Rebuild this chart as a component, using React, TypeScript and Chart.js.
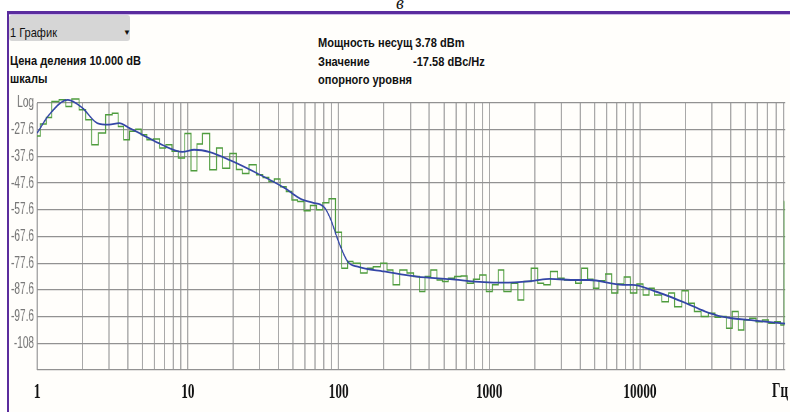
import React, { useEffect, useRef } from 'react';
import { Chart, registerables } from 'chart.js';

Chart.register(...registerables);

// ---- data ----
const FREQ_HZ = [
  1, 1.1, 1.2, 1.3, 1.5, 1.6, 1.8, 2, 2.2, 2.4, 2.7, 3, 3.3, 3.6, 3.9, 4.3, 4.7, 5.1, 5.6, 6.2, 6.8, 7.5, 8.2, 9.1,
  10, 11, 12, 13, 15, 16, 18, 20, 22, 24, 27, 30, 33, 36, 39, 43, 47, 51, 56, 62, 68, 75, 82, 91,
  100, 110, 120, 130, 150, 160, 180, 200, 220, 240, 270, 300, 330, 360, 390, 430, 470, 510, 560, 620, 680, 750, 820, 910,
  1000, 1100, 1200, 1300, 1500, 1600, 1800, 2000, 2200, 2400, 2700, 3000, 3300, 3600, 3900, 4300, 4700, 5100, 5600, 6200, 6800, 7500, 8200, 9100,
  10000, 11000, 12000, 13000, 15000, 16000, 18000, 20000, 22000, 24000, 27000, 30000, 33000, 36000, 39000, 43000, 47000, 51000, 56000, 62000, 68000, 75000, 82000, 90000, 91000,
];

const TRACE_DB = [
  -30.0, -25.5, -23.0, -17.0, -16.4, -18.9, -16.1, -20.1, -23.9, -33.2, -28.8, -22.0, -21.4, -26.4, -31.4, -28.2, -27.4, -29.5, -31.4, -31.1, -34.5, -33.2, -35.7, -38.2,
  -29.0, -43.0, -33.0, -29.0, -42.6, -34.5, -42.0, -36.5, -42.5, -44.0, -40.7, -44.5, -45.5, -47.0, -46.1, -49.0, -50.7, -53.9, -54.5, -58.0, -56.0, -57.6, -55.0, -53.5,
  -66.0, -79.5, -77.0, -77.6, -81.3, -79.5, -78.9, -77.6, -80.1, -85.7, -80.1, -81.3, -82.6, -88.2, -82.6, -80.1, -83.9, -84.5, -83.2, -82.6, -82.4, -85.1, -83.6, -82.0,
  -88.2, -85.7, -80.1, -88.2, -85.1, -91.4, -84.5, -79.5, -85.1, -85.7, -80.7, -83.2, -83.9, -83.9, -85.1, -79.5, -83.6, -87.0, -84.2, -81.6, -88.8, -85.4, -82.8, -88.8,
  -85.4, -89.5, -87.0, -89.5, -92.0, -88.8, -93.9, -87.9, -92.6, -95.7, -97.6, -96.3, -97.8, -97.6, -102.0, -95.7, -102.6, -98.9, -98.2, -99.5, -98.9, -100.1, -99.5, -100.7, -54.5,
];

const AVG_FREQ_HZ = [
  1, 1.2, 1.6, 2, 2.5, 3, 3.5, 4.1, 5, 6.7,
  9.2, 11, 14, 19, 29, 44, 56, 68, 76, 81,
  89, 99, 115, 134, 200, 330, 550, 920, 1240, 1960,
  2520, 3780, 4600, 7700, 8900, 12700, 19100, 27200, 35000, 58000,
  92000,
];

const AVG_DB = [
  -28.8, -22.0, -16.4, -19.5, -25.1, -25.7, -25.1, -27.0, -29.5, -33.2,
  -35.9, -35.1, -36.0, -39.0, -44.0, -49.5, -53.5, -55.0, -55.7, -56.9,
  -61.4, -68.9, -77.0, -78.9, -80.7, -82.6, -83.6, -84.7, -84.9, -84.2,
  -83.5, -83.9, -83.9, -85.7, -85.7, -88.2, -92.0, -95.7, -97.6, -99.1,
  -100.2,
];

const Y_TICKS = [-117.6, -107.6, -97.6, -87.6, -77.6, -67.6, -57.6, -47.6, -37.6, -27.6, -17.6];
const Y_TICK_LABELS = ['', '-108', '-97.6', '-87.6', '-77.6', '-67.6', '-57.6', '-47.6', '-37.6', '-27.6', 'Log'];
const X_DECADES = [1, 10, 100, 1000, 10000];
const X_TICK_LABELS = ['1', '10', '100', '1000', '10000'];
const X_MIN = 1;
const X_MAX = 92000;

// ---- layout ----
const W = 790;
const H = 412;
const SQUASH = 0.63; // horizontal compression of the original screenshot
const CW = Math.round(W / SQUASH);

const xGrid: number[] = [];
X_DECADES.forEach((d) => {
  for (let m = 1; m <= 9; m++) {
    const v = d * m;
    if (v <= X_MAX) xGrid.push(v);
  }
});

const headerFont = '"Liberation Sans", Arial, sans-serif';

function Txt(props: { x: number; cy: number; text: string; bold?: boolean; size?: number; sx?: number }) {
  const { x, cy, text, bold = true, size = 13, sx = 0.85 } = props;
  return (
    <div
      style={{
        position: 'absolute',
        left: x,
        top: cy - 8,
        height: 16,
        lineHeight: '16px',
        fontFamily: headerFont,
        fontWeight: bold ? 700 : 400,
        fontSize: size,
        color: '#111',
        whiteSpace: 'nowrap',
        transform: `scaleX(${sx})`,
        transformOrigin: 'left center',
      }}
    >
      {text}
    </div>
  );
}

export default function App() {
  const ref = useRef<HTMLCanvasElement | null>(null);

  useEffect(() => {
    if (!ref.current) return;
    const clip = { left: 0, top: 14, right: 0, bottom: 0 };
    const chart = new Chart(ref.current, {
      type: 'line',
      data: {
        datasets: [
          {
            label: 'avg',
            data: AVG_FREQ_HZ.map((f, i) => ({ x: f, y: AVG_DB[i] })),
            borderColor: '#3446a6',
            borderWidth: 1.8,
            pointRadius: 0,
            cubicInterpolationMode: 'monotone',
            fill: false,
            clip,
          } as any,
          {
            label: 'trace',
            data: FREQ_HZ.map((f, i) => ({ x: f, y: TRACE_DB[i] })),
            borderColor: '#4e9c3d',
            borderWidth: 1.5,
            pointRadius: 0,
            stepped: 'middle',
            fill: false,
            clip,
          } as any,
        ],
      },
      options: {
        responsive: false,
        animation: false,
        devicePixelRatio: 1,
        layout: { padding: { top: 103, left: 0, right: 0, bottom: 0 } },
        plugins: {
          legend: { display: false },
          tooltip: { enabled: false },
          title: { display: false },
        },
        scales: {
          x: {
            type: 'logarithmic',
            min: X_MIN,
            max: X_MAX,
            afterBuildTicks: (s: any) => {
              s.ticks = xGrid.map((v) => ({ value: v }));
            },
            afterFit: (s: any) => {
              s.height = 42;
            },
            grid: { color: '#a9a9a9', lineWidth: 2, drawTicks: false },
            border: { display: false },
            ticks: {
              autoSkip: false,
              maxRotation: 0,
              minRotation: 0,
              padding: 10,
              color: '#111',
              font: { family: '"Liberation Serif", "Times New Roman", serif', size: 21, weight: 'bold' },
              callback: (v: any) => {
                const i = X_DECADES.indexOf(Number(v));
                return i >= 0 ? X_TICK_LABELS[i] : '';
              },
            },
          },
          y: {
            type: 'linear',
            min: -117.6,
            max: -17.6,
            afterBuildTicks: (s: any) => {
              s.ticks = Y_TICKS.map((v) => ({ value: v }));
            },
            afterFit: (s: any) => {
              s.width = 59;
            },
            grid: { color: '#929292', lineWidth: 1.3, drawTicks: false },
            border: { display: false },
            ticks: {
              autoSkip: false,
              padding: 5,
              color: '#787878',
              font: { family: '"Liberation Sans", Arial, sans-serif', size: 16 },
              callback: (v: any) => {
                let best = 0;
                let bd = Infinity;
                Y_TICKS.forEach((t, i) => {
                  const d = Math.abs(t - Number(v));
                  if (d < bd) {
                    bd = d;
                    best = i;
                  }
                });
                return Y_TICK_LABELS[best];
              },
            },
          },
        },
      },
    });
    return () => chart.destroy();
  }, []);

  return (
    <div style={{ position: 'fixed', left: 0, top: 0, width: W, height: H, overflow: 'hidden', background: '#ffffff' }}>
      {/* frame */}
      <div
        style={{
          position: 'absolute',
          left: 7,
          top: 11,
          width: W,
          height: H,
          borderTop: '3px solid #5a2c9e',
          borderLeft: '2px solid #5a2c9e',
          background: '#fffefb',
        }}
      />
      <div style={{ position: 'absolute', left: 9, top: 14, width: W, height: 1, background: '#cdbbe8' }} />
      <div
        style={{
          position: 'absolute',
          left: 396,
          top: -6,
          fontFamily: '"Liberation Serif", serif',
          fontStyle: 'italic',
          fontSize: 18,
          lineHeight: '18px',
          color: '#111',
        }}
      >
        в
      </div>
      {/* dropdown */}
      <div style={{ position: 'absolute', left: 9, top: 15, width: 121, height: 26, background: '#d6d6d6', borderRadius: 3 }} />
      <Txt x={10} cy={33} text="1 График" bold={false} size={13} sx={0.85} />
      <div style={{ position: 'absolute', left: 123, top: 28, fontSize: 8, lineHeight: '10px', color: '#111', fontFamily: headerFont }}>▼</div>
      <Txt x={10} cy={61} text="Цена деления 10.000 dB" />
      <Txt x={10} cy={79} text="шкалы" />
      <Txt x={318} cy={43} text="Мощность несущ 3.78 dBm" />
      <Txt x={318} cy={62} text="Значение" />
      <Txt x={413} cy={62} text="-17.58 dBc/Hz" />
      <Txt x={318} cy={80} text="опорного уровня" />
      <canvas
        ref={ref}
        width={CW}
        height={H}
        style={{ position: 'absolute', left: 0, top: 0, width: W, height: H }}
      />
      <div
        style={{
          position: 'absolute',
          left: 772,
          top: 378,
          fontFamily: '"Liberation Serif", "Times New Roman", serif',
          fontWeight: 700,
          fontSize: 21,
          lineHeight: '24px',
          color: '#111',
          transform: `scaleX(${SQUASH})`,
          transformOrigin: 'left center',
          whiteSpace: 'nowrap',
        }}
      >
        Гц
      </div>
    </div>
  );
}
